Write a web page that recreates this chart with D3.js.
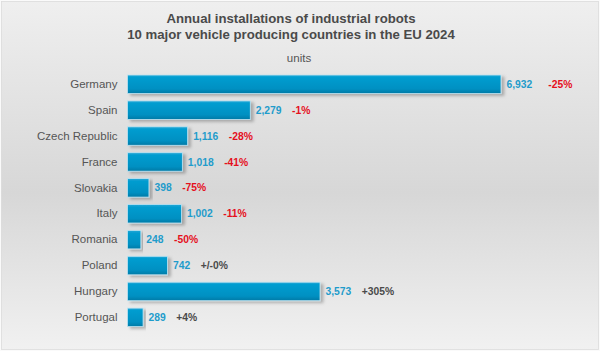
<!DOCTYPE html>
<html>
<head>
<meta charset="utf-8">
<script src="https://cdn.jsdelivr.net/npm/d3@7"></script>
<style>
  html, body { margin: 0; padding: 0; }
  body { width: 600px; height: 351px; overflow: hidden; }
  svg { display: block; font-family: "Liberation Sans", Arial, sans-serif; }
</style>
</head>
<body>
<svg class="Bars__SVG" width="600" height="351"></svg>
<script>
// data
var countries = ["Germany", "Spain", "Czech Republic", "France", "Slovakia", "Italy", "Romania", "Poland", "Hungary", "Portugal"];
var units = [6932, 2279, 1116, 1018, 398, 1002, 248, 742, 3573, 289];
var changes = ["-25%", "-1%", "-28%", "-41%", "-75%", "-11%", "-50%", "+/-0%", "+305%", "+4%"];

var titleLines = ["Annual installations of industrial robots", "10 major vehicle producing countries in the EU 2024"];
var unitLabel = "units";

var width = 600, height = 351;
var margin = { top: 71.3, left: 127.5, right: 99, bottom: 20.7 };

var svg = d3.select(".Bars__SVG");
var defs = svg.append("defs");

// background gradient (light - darker - light)
var bg = defs.append("linearGradient").attr("id", "bg").attr("x1", 0).attr("y1", 0).attr("x2", 0).attr("y2", 1);
bg.append("stop").attr("offset", "0%").attr("stop-color", "#efefef");
bg.append("stop").attr("offset", "55%").attr("stop-color", "#d7d7d7");
bg.append("stop").attr("offset", "100%").attr("stop-color", "#f1f1f1");

// bar gradient
var barGrad = defs.append("linearGradient").attr("id", "barGrad").attr("x1", 0).attr("y1", 0).attr("x2", 0).attr("y2", 1);
barGrad.append("stop").attr("offset", "0%").attr("stop-color", "#2aaad8");
barGrad.append("stop").attr("offset", "12%").attr("stop-color", "#059dd0");
barGrad.append("stop").attr("offset", "75%").attr("stop-color", "#0090c2");
barGrad.append("stop").attr("offset", "100%").attr("stop-color", "#007aa6");

var shadow = defs.append("filter").attr("id", "shadow").attr("x", "-5%").attr("y", "-30%").attr("width", "120%").attr("height", "180%");
shadow.append("feDropShadow").attr("dx", 3).attr("dy", 2).attr("stdDeviation", 1.6)
    .attr("flood-color", "#000").attr("flood-opacity", 0.25);

svg.append("rect").attr("width", width).attr("height", height).attr("fill", "url(#bg)");
svg.append("rect").attr("x", 0.5).attr("y", 0.5).attr("width", width - 1).attr("height", height - 1)
    .attr("fill", "none").attr("stroke", "#fafafa");
svg.append("rect").attr("x", 1.5).attr("y", 1.5).attr("width", width - 3).attr("height", height - 3)
    .attr("fill", "none").attr("stroke", "#dcdcdc").attr("stroke-width", 0.8);

// title
svg.append("g").selectAll("text")
    .data(titleLines)
    .enter()
    .append("text")
    .attr("x", 291)
    .attr("y", (d, i) => 23.3 + i * 15.4)
    .attr("text-anchor", "middle")
    .attr("font-size", "13.2px")
    .attr("font-weight", "bold")
    .attr("fill", "#4a4a4a")
    .text(d => d);

svg.append("text")
    .attr("x", 299)
    .attr("y", 61.5)
    .attr("text-anchor", "middle")
    .attr("font-size", "11.5px")
    .attr("fill", "#555")
    .text(unitLabel);

var x = d3.scaleLinear()
    .domain([0, d3.max(units)])
    .range([margin.left, 501]);

var y = d3.scaleBand()
    .domain(countries)
    .range([margin.top, height - margin.bottom])
    .paddingInner(0.286)
    .paddingOuter(0.143);

// category axis
var yAxis = svg.append("g")
    .attr("transform", `translate(${margin.left - 10},0)`)
    .call(d3.axisLeft(y).tickSize(0).tickPadding(0));
yAxis.select(".domain").remove();
yAxis.selectAll("text")
    .attr("font-size", "11.5px")
    .attr("font-family", "\"Liberation Sans\", Arial, sans-serif")
    .attr("fill", "#555");

var rows = svg.append("g").selectAll("g")
    .data(countries)
    .enter()
    .append("g");

rows.append("rect")
    .attr("x", x(0))
    .attr("y", d => y(d))
    .attr("width", (d, i) => x(units[i]) - x(0))
    .attr("height", y.bandwidth())
    .attr("fill", "url(#barGrad)")
    .attr("stroke", "#bfe3f1")
    .attr("stroke-width", 0.8)
    .attr("filter", "url(#shadow)");

var fmt = d3.format(",");

var valueText = rows.append("text")
    .attr("x", (d, i) => x(units[i]) + 5.5)
    .attr("y", d => y(d) + y.bandwidth() / 2)
    .attr("dy", "0.35em")
    .attr("font-size", "10.3px")
    .attr("font-weight", "bold")
    .attr("fill", "#1f9ccb")
    .text((d, i) => fmt(units[i]));

// change vs previous year, placed just after the value label
rows.append("text")
    .attr("x", function(d, i) {
        var t = valueText.nodes()[i];
        return x(units[i]) + 5.5 + t.getComputedTextLength() + (i === 0 ? 16 : 10.5);
    })
    .attr("y", d => y(d) + y.bandwidth() / 2)
    .attr("dy", "0.35em")
    .attr("font-size", "10.3px")
    .attr("font-weight", "bold")
    .attr("fill", (d, i) => changes[i].charAt(0) === "-" ? "#e5101c" : "#4a4a4a")
    .text((d, i) => changes[i]);
</script>
</body>
</html>
